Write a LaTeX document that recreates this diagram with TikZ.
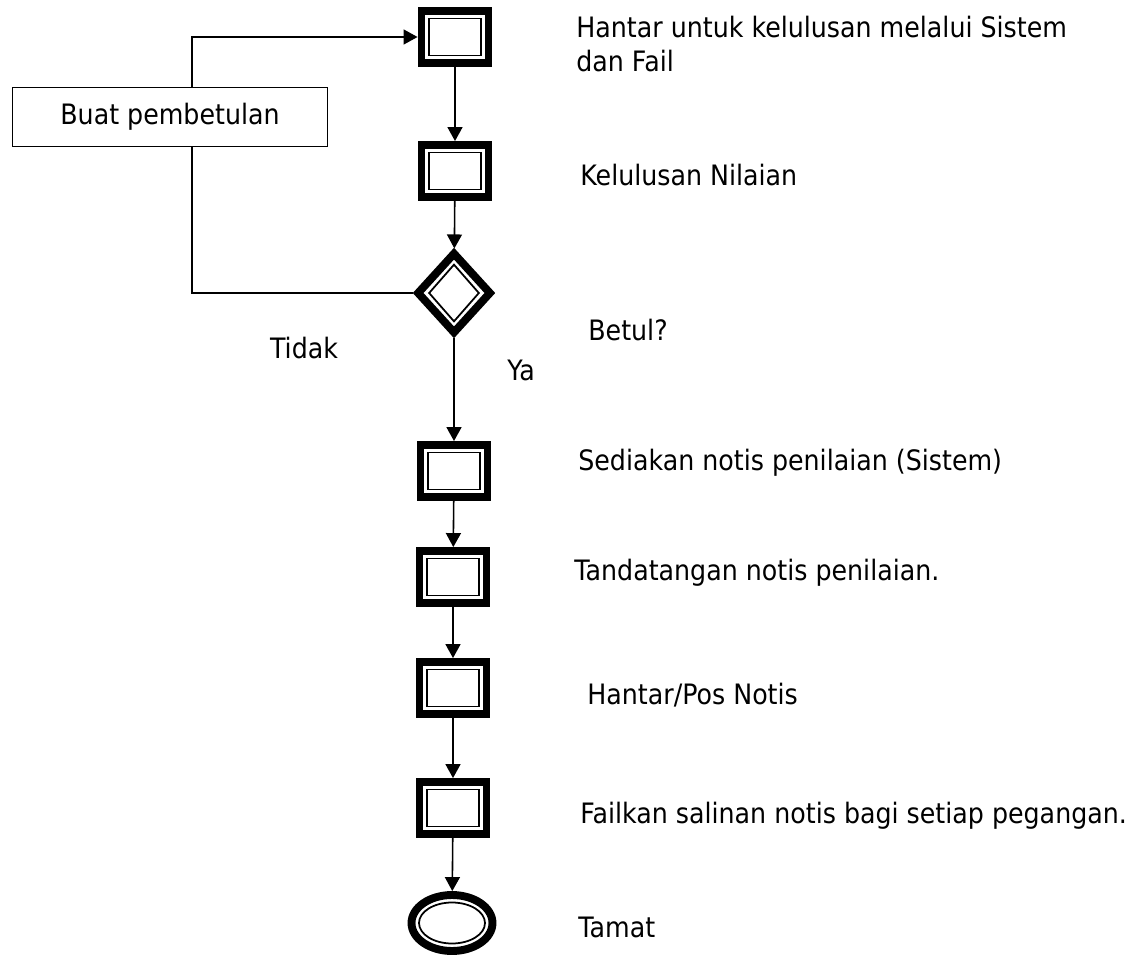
\documentclass[tikz,border=0pt]{standalone}
\usepackage{fontspec}
\setmainfont[FakeStretch=0.9]{DejaVu Sans}
\usetikzlibrary{shapes.geometric, arrows.meta}
\tikzstyle{every node} = [font=\fontsize{16}{19}\selectfont]
\tikzstyle{stepbox} = [rectangle, draw, line width=4.5pt, inner sep=0pt,
    minimum width=1.34cm, minimum height=1.04cm,
    path picture={\draw[line width=1pt]
        ([shift={(0.15cm,0.15cm)}]path picture bounding box.south west) rectangle
        ([shift={(-0.15cm,-0.15cm)}]path picture bounding box.north east);}]
\tikzstyle{decision} = [diamond, draw, line width=4.5pt, inner sep=0pt,
    minimum width=1.5cm, minimum height=1.64cm,
    path picture={\draw[line width=1pt]
        ([yshift=-0.22cm]path picture bounding box.north) --
        ([xshift=-0.22cm]path picture bounding box.east) --
        ([yshift=0.22cm]path picture bounding box.south) --
        ([xshift=0.22cm]path picture bounding box.west) -- cycle;}]
\tikzstyle{stopnode} = [ellipse, draw, line width=4.5pt, inner sep=0pt,
    minimum width=1.62cm, minimum height=1.12cm,
    path picture={\draw[line width=1pt]
        (path picture bounding box.center) ellipse (0.66cm and 0.41cm);}]
\tikzstyle{fixbox} = [rectangle, draw, line width=0.9pt,
    minimum width=6.3cm, minimum height=1.18cm]
\tikzstyle{note} = [anchor=west, align=left, inner sep=0pt]
\tikzstyle{flow} = [line width=0.9pt, -{Triangle[length=0.28cm, width=0.3cm]}]
\tikzstyle{link} = [line width=0.9pt]

\begin{document}
\begin{tikzpicture}[x=0.02cm, y=-0.02cm]
    \useasboundingbox (0,0) rectangle (1140,957);

    % main column
    \node[stepbox] (hantar) at (455,37) {};
    \node[stepbox] (lulus) at (455,171) {};
    \node[decision] (betul) at (454,293) {};
    \node[stepbox] (sedia) at (454,471) {};
    \node[stepbox] (tanda) at (453,577) {};
    \node[stepbox] (pos) at (453,688) {};
    \node[stepbox] (fail) at (453,808) {};
    \node[stopnode] (tamat) at (452,923) {};

    % correction loop
    \node[fixbox] (baiki) at (170,117) {Buat pembetulan};
    \coordinate (loop) at (192,0);

    % descriptions
    \node[note] (t1) at (576,44) {Hantar untuk kelulusan melalui Sistem\\dan Fail};
    \node[note] (t2) at (580,175) {Kelulusan Nilaian};
    \node[note] (t3) at (588,330) {Betul?};
    \node[note] (t4) at (578,463) {Sediakan notis penilaian (Sistem)};
    \node[note] (t5) at (574,573) {Tandatangan notis penilaian.};
    \node[note] (t6) at (587,695) {Hantar/Pos Notis};
    \node[note] (t7) at (580,816) {Failkan salinan notis bagi setiap pegangan.};
    \node[note] (t8) at (578,927) {Tamat};
    \node (tidak) at (304,348) {Tidak};
    \node (ya) at (521,370) {Ya};

    % connectors
    \draw[flow] (hantar) -- (lulus);
    \draw[flow] (lulus) -- (betul);
    \draw[flow] (betul) -- (sedia);
    \draw[flow] (sedia) -- (tanda);
    \draw[flow] (tanda) -- (pos);
    \draw[flow] (pos) -- (fail);
    \draw[flow] (fail) -- (tamat);
    \draw[link] (baiki.south -| loop) |- (betul);
    \draw[flow] (baiki.north -| loop) |- (hantar);
\end{tikzpicture}
\end{document}
